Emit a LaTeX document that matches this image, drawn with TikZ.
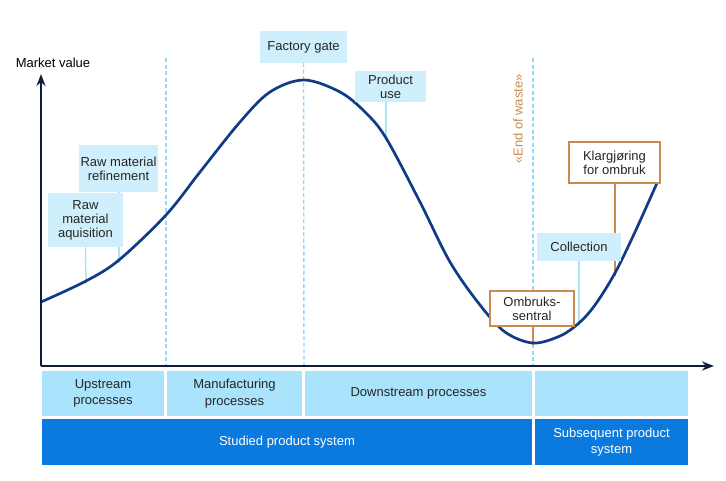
\documentclass[tikz,border=0pt]{standalone}
\usepackage{fontspec}
\setmainfont{Liberation Sans}
\usepackage{xcolor}
\usetikzlibrary{shapes.geometric, arrows, arrows.meta, positioning, backgrounds, calc}
\definecolor{navy}{HTML}{0F3C86}
\definecolor{axisblue}{HTML}{101C3C}
\definecolor{paleblue}{HTML}{CFEFFC}
\definecolor{bandblue}{HTML}{A9E3FC}
\definecolor{deepblue}{HTML}{0A7ADF}
\definecolor{dashblue}{HTML}{92D8F7}
\definecolor{rust}{HTML}{C98A50}
\definecolor{ink}{HTML}{262626}
\tikzstyle{arrow} = [line width=1.8pt,-{Stealth[length=12pt,width=9pt]},draw=axisblue,fill=axisblue]

\begin{document}
\begin{tikzpicture}[x=1pt, y=-1pt, font=\fontsize{13}{14}\selectfont]
\tikzstyle{stage} = [rectangle, fill=paleblue, text=ink, align=center, inner sep=1pt]
\tikzstyle{reuse} = [rectangle, draw=rust, line width=1.6pt, fill=white, text=ink, align=center, inner sep=1pt]
\tikzstyle{band} = [rectangle, fill=bandblue, text=ink, align=center, inner sep=0pt, minimum height=45pt, font=\fontsize{13}{16.5}\selectfont]
\tikzstyle{system} = [rectangle, fill=deepblue, text=white, align=center, inner sep=0pt, minimum height=46pt, font=\fontsize{13}{16.5}\selectfont]
\tikzstyle{divider} = [dash pattern=on 4pt off 2.5pt, line width=1.4pt, draw=dashblue]
\tikzstyle{stalk} = [line width=1.4pt, draw=bandblue]
\tikzstyle{ruststalk} = [line width=1.6pt, draw=rust]

\useasboundingbox (0,0) rectangle (726,480);

% axes
\coordinate (origin) at (41,366);
\coordinate (xend) at (714,366);
\coordinate (yend) at (41,74);
\node (ylabel) at (53,63) {Market value};

% value curve
\draw [navy, line width=2.7pt, line cap=round] plot[smooth, tension=0.55] coordinates {
  (41,302) (86,281) (119,260) (166,215) (200,172) (240,122) (270,92) (304,80)
  (340,92) (365,112) (386,138) (420,202) (450,262) (480,305) (505,332) (533,343)
  (560,336) (579,323) (595,305) (615,273) (635,232) (657,183)};

% points on the curve
\coordinate (c-aq) at (86,284);
\coordinate (c-ref) at (119,263);
\coordinate (c-use) at (386,141);
\coordinate (c-col) at (579,326);
\coordinate (c-kl) at (615,276);
\coordinate (c-om) at (533,345);

% stage boxes
\node (aquisition) [stage, minimum width=75pt, minimum height=54pt] at (85.5,220) {Raw\\material\\aquisition};
\node (refinement) [stage, minimum width=79pt, minimum height=47pt] at (118.5,168.5) {Raw material\\refinement};
\node (gate) [stage, minimum width=87pt, minimum height=32pt] at (303.5,47) {Factory gate};
\node (use) [stage, minimum width=71pt, minimum height=31pt] at (390.5,86.5) {Product\\use};
\node (klargjoring) [reuse, minimum width=91pt, minimum height=41pt] at (614.5,162.5) {Klargjøring\\for ombruk};
\node (collection) [stage, minimum width=84pt, minimum height=28pt] at (579,247) {Collection};
\node (sentral) [reuse, minimum width=84pt, minimum height=35pt] at (532,308.5) {Ombruks-\\sentral};
\node (waste) [rotate=90, text=rust] at (518,119) {«End of waste»};

% bands
\node (upstream) [band, minimum width=122pt] at (103,393.5) {Upstream\\processes};
\node (manufacturing) [band, minimum width=135pt] at (234.5,393.5) {Manufacturing\\processes};
\node (downstream) [band, minimum width=227pt] at (418.5,393.5) {Downstream processes};
\node (after) [band, minimum width=153pt] at (611.5,393.5) {};
\node (studied) [system, minimum width=490pt] at (287,442) {Studied product system};
\node (subsequent) [system, minimum width=153pt] at (611.5,442) {Subsequent product\\system};

\begin{scope}[on background layer]
\draw [divider] (166,58) -- (166,366);
\draw [divider] (gate.south) -- (304,366);
\draw [divider] (533,58) -- (533,366);
\draw [stalk] (aquisition.south) -- (c-aq);
\draw [stalk] ([xshift=0.5pt]refinement.south) -- (c-ref);
\draw [stalk] ([xshift=-4.5pt]use.south) -- (c-use);
\draw [stalk] (collection.south) -- (c-col);
\draw [ruststalk] ([xshift=0.5pt]klargjoring.south) -- (c-kl);
\draw [ruststalk] ([xshift=1pt]sentral.south) -- (c-om);
\end{scope}

\draw [arrow] (origin) -- (xend);
\draw [arrow] (origin) -- (yend);

\end{tikzpicture}
\end{document}
